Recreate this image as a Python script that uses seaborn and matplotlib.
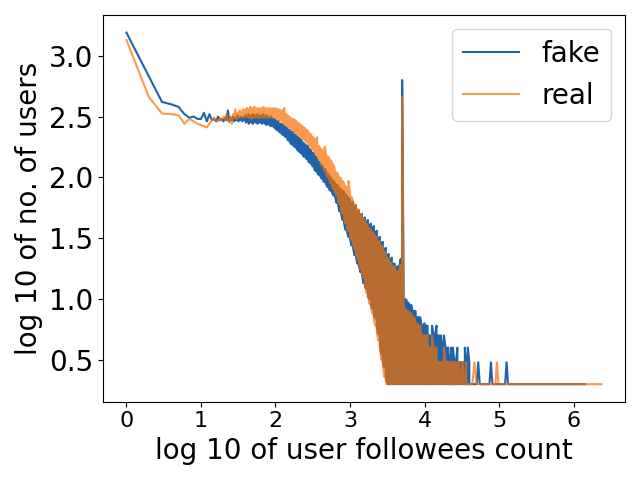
import matplotlib
matplotlib.use("Agg")
import matplotlib.pyplot as plt
import seaborn as sns
import pandas as pd

# log10(followee count) shared by both series in the sparse head
x_head = [0.000, 0.301, 0.477, 0.602, 0.699, 0.778, 0.845, 0.903, 0.954, 1.000,
          1.041, 1.079, 1.114, 1.146, 1.176, 1.204, 1.230, 1.255, 1.279, 1.301,
          1.322, 1.342, 1.362, 1.380, 1.398, 1.415, 1.431, 1.447, 1.462, 1.477,
          1.491, 1.505, 1.519, 1.531, 1.544, 1.556, 1.568, 1.580, 1.591]
fake_head = [3.19, 2.83, 2.62, 2.60, 2.58, 2.52, 2.49, 2.50, 2.48, 2.48,
             2.53, 2.46, 2.52, 2.47, 2.48, 2.46, 2.50, 2.47, 2.48, 2.46,
             2.49, 2.47, 2.55, 2.46, 2.49, 2.47, 2.50, 2.46, 2.49, 2.47,
             2.51, 2.46, 2.49, 2.47, 2.50, 2.46, 2.49, 2.47, 2.50]
real_head = [3.13, 2.66, 2.525, 2.52, 2.51, 2.44, 2.48, 2.46, 2.44, 2.43,
             2.42, 2.41, 2.44, 2.47, 2.49, 2.47, 2.46, 2.49, 2.47, 2.50,
             2.48, 2.52, 2.47, 2.45, 2.50, 2.44, 2.52, 2.49, 2.56, 2.48,
             2.53, 2.49, 2.55, 2.50, 2.54, 2.49, 2.56, 2.51, 2.55]

# dense middle part: per x, lowest and highest value the noisy curve reaches
x_dense = [1.60, 1.62, 1.64, 1.66, 1.68, 1.70, 1.72, 1.74, 1.76, 1.78,
           1.80, 1.82, 1.84, 1.86, 1.88, 1.90, 1.92, 1.94, 1.96, 1.98,
           2.00, 2.02, 2.04, 2.06, 2.08, 2.10, 2.12, 2.14, 2.16, 2.18,
           2.20, 2.22, 2.24, 2.26, 2.28, 2.30, 2.32, 2.34, 2.36, 2.38,
           2.40, 2.42, 2.44, 2.46, 2.48, 2.50, 2.52, 2.54, 2.56, 2.58,
           2.60, 2.62, 2.64, 2.66, 2.68, 2.70, 2.72, 2.74, 2.76, 2.78,
           2.80, 2.82, 2.84, 2.86, 2.88, 2.90, 2.92, 2.94, 2.96, 2.98,
           3.00, 3.02, 3.04, 3.06, 3.08, 3.10, 3.12, 3.14, 3.16, 3.18,
           3.20, 3.22, 3.24, 3.26, 3.28, 3.30, 3.32, 3.34, 3.36, 3.38,
           3.40, 3.42, 3.44, 3.46, 3.48, 3.50, 3.52, 3.54, 3.56, 3.58,
           3.60, 3.62, 3.64, 3.66, 3.68, 3.699, 3.72, 3.74, 3.76, 3.78,
           3.80, 3.82, 3.84, 3.86, 3.88, 3.90, 3.92, 3.94, 3.96, 3.98,
           4.00, 4.02, 4.04, 4.06, 4.08, 4.10, 4.12, 4.14, 4.16, 4.18,
           4.20, 4.22, 4.24, 4.26, 4.28, 4.30, 4.32, 4.34, 4.36, 4.38,
           4.40, 4.42, 4.44, 4.46, 4.48, 4.50, 4.52, 4.54, 4.56, 4.58,
           4.60]
fake_hi = [2.51, 2.50, 2.52, 2.50, 2.51, 2.52, 2.50, 2.51, 2.52, 2.50,
           2.51, 2.50, 2.52, 2.49, 2.51, 2.50, 2.49, 2.50, 2.48, 2.48,
           2.47, 2.46, 2.46, 2.44, 2.44, 2.43, 2.42, 2.41, 2.40, 2.39,
           2.38, 2.37, 2.37, 2.35, 2.34, 2.33, 2.32, 2.31, 2.29, 2.28,
           2.27, 2.26, 2.25, 2.23, 2.22, 2.20, 2.19, 2.17, 2.15, 2.13,
           2.11, 2.10, 2.08, 2.07, 2.05, 2.03, 2.02, 2.00, 1.98, 1.97,
           1.95, 1.94, 1.93, 1.91, 1.90, 1.89, 1.88, 1.86, 1.85, 1.83,
           1.82, 1.79, 1.80, 1.76, 1.77, 1.72, 1.73, 1.69, 1.70, 1.66,
           1.67, 1.63, 1.65, 1.60, 1.62, 1.58, 1.60, 1.55, 1.56, 1.50,
           1.51, 1.46, 1.47, 1.41, 1.42, 1.36, 1.37, 1.32, 1.34, 1.29,
           1.29, 1.25, 1.27, 1.26, 1.33, 2.80, 1.01, 1.00, 0.99, 0.97,
           0.95, 0.95, 0.90, 0.90, 0.90, 0.85, 0.85, 0.85, 0.78, 0.78,
           0.80, 0.78, 0.78, 0.70, 0.70, 0.78, 0.70, 0.70, 0.78, 0.70,
           0.70, 0.70, 0.60, 0.70, 0.60, 0.60, 0.60, 0.48, 0.60, 0.60,
           0.48, 0.48, 0.60, 0.48, 0.48, 0.48, 0.48, 0.60, 0.48, 0.60,
           0.48]
fake_lo = [2.45, 2.46, 2.44, 2.46, 2.45, 2.44, 2.46, 2.45, 2.44, 2.46,
           2.45, 2.44, 2.45, 2.44, 2.43, 2.44, 2.43, 2.42, 2.43, 2.41,
           2.40, 2.39, 2.38, 2.37, 2.36, 2.35, 2.34, 2.33, 2.31, 2.30,
           2.28, 2.27, 2.26, 2.25, 2.24, 2.22, 2.21, 2.20, 2.19, 2.17,
           2.17, 2.15, 2.13, 2.12, 2.11, 2.09, 2.07, 2.05, 2.04, 2.02,
           2.01, 1.99, 1.97, 1.96, 1.94, 1.92, 1.90, 1.89, 1.87, 1.85,
           1.84, 1.79, 1.77, 1.72, 1.70, 1.65, 1.62, 1.57, 1.55, 1.51,
           1.49, 1.44, 1.42, 1.36, 1.34, 1.29, 1.27, 1.22, 1.20, 1.13,
           1.10, 1.08, 1.02, 1.00, 0.95, 0.92, 0.86, 0.84, 0.76, 0.71,
           0.62, 0.55, 0.48, 0.44, 0.35, 0.30, 0.30, 0.30, 0.30, 0.30,
           0.30, 0.30, 0.30, 0.30, 0.30, 0.30, 0.30, 0.30, 0.30, 0.30,
           0.30, 0.30, 0.30, 0.30, 0.30, 0.30, 0.30, 0.30, 0.30, 0.30,
           0.30, 0.30, 0.30, 0.30, 0.30, 0.30, 0.30, 0.30, 0.30, 0.30,
           0.30, 0.30, 0.30, 0.30, 0.30, 0.30, 0.30, 0.30, 0.30, 0.30,
           0.30, 0.30, 0.30, 0.30, 0.30, 0.30, 0.30, 0.30, 0.30, 0.30,
           0.30]
real_hi = [2.56, 2.57, 2.55, 2.58, 2.56, 2.57, 2.58, 2.56, 2.57, 2.56,
           2.57, 2.56, 2.58, 2.56, 2.57, 2.56, 2.57, 2.56, 2.57, 2.56,
           2.57, 2.56, 2.56, 2.55, 2.55, 2.54, 2.57, 2.52, 2.51, 2.50,
           2.49, 2.48, 2.48, 2.47, 2.46, 2.45, 2.44, 2.43, 2.42, 2.41,
           2.40, 2.39, 2.38, 2.36, 2.35, 2.33, 2.32, 2.30, 2.33, 2.26,
           2.24, 2.23, 2.22, 2.25, 2.19, 2.17, 2.16, 2.14, 2.12, 2.10,
           2.05, 2.04, 2.02, 2.00, 1.99, 1.97, 1.95, 1.93, 1.92, 1.97,
           1.86, 1.84, 1.80, 1.78, 1.76, 1.74, 1.72, 1.70, 1.68, 1.66,
           1.63, 1.62, 1.60, 1.58, 1.57, 1.55, 1.54, 1.52, 1.50, 1.48,
           1.46, 1.44, 1.42, 1.39, 1.36, 1.34, 1.32, 1.30, 1.28, 1.27,
           1.25, 1.23, 1.22, 1.24, 1.28, 2.66, 0.92, 0.92, 0.90, 0.90,
           0.88, 0.88, 0.85, 0.85, 0.80, 0.80, 0.78, 0.78, 0.70, 0.70,
           0.70, 0.70, 0.70, 0.60, 0.60, 0.70, 0.60, 0.60, 0.60, 0.48,
           0.48, 0.48, 0.48, 0.60, 0.48, 0.48, 0.48, 0.48, 0.48, 0.48,
           0.48, 0.48, 0.48, 0.48, 0.30, 0.48, 0.48, 0.30, 0.48, 0.30,
           0.30]
real_lo = [2.49, 2.50, 2.49, 2.50, 2.48, 2.50, 2.49, 2.50, 2.49, 2.49,
           2.50, 2.49, 2.50, 2.49, 2.50, 2.49, 2.49, 2.50, 2.49, 2.49,
           2.49, 2.48, 2.47, 2.47, 2.46, 2.45, 2.44, 2.43, 2.42, 2.41,
           2.40, 2.39, 2.38, 2.37, 2.36, 2.35, 2.34, 2.33, 2.32, 2.31,
           2.30, 2.29, 2.27, 2.26, 2.24, 2.23, 2.21, 2.19, 2.17, 2.15,
           2.12, 2.10, 2.08, 2.05, 2.03, 2.00, 1.98, 1.95, 1.93, 1.90,
           1.88, 1.85, 1.80, 1.78, 1.73, 1.70, 1.66, 1.62, 1.58, 1.56,
           1.52, 1.48, 1.45, 1.41, 1.37, 1.33, 1.30, 1.25, 1.21, 1.18,
           1.12, 1.05, 1.04, 0.96, 0.93, 0.88, 0.82, 0.78, 0.72, 0.66,
           0.60, 0.50, 0.45, 0.36, 0.32, 0.30, 0.30, 0.30, 0.30, 0.30,
           0.30, 0.30, 0.30, 0.30, 0.30, 0.30, 0.30, 0.30, 0.30, 0.30,
           0.30, 0.30, 0.30, 0.30, 0.30, 0.30, 0.30, 0.30, 0.30, 0.30,
           0.30, 0.30, 0.30, 0.30, 0.30, 0.30, 0.30, 0.30, 0.30, 0.30,
           0.30, 0.30, 0.30, 0.30, 0.30, 0.30, 0.30, 0.30, 0.30, 0.30,
           0.30, 0.30, 0.30, 0.30, 0.30, 0.30, 0.30, 0.30, 0.30, 0.30,
           0.30]

# sparse tails
fake_tail_x = [4.66, 4.70, 4.72, 4.74, 4.80, 4.87, 4.89, 4.91, 5.00, 5.08, 5.10, 5.12, 5.30, 5.60, 6.15]
fake_tail_y = [0.30, 0.30, 0.48, 0.30, 0.30, 0.30, 0.48, 0.30, 0.30, 0.30, 0.48, 0.30, 0.30, 0.30, 0.30]
real_tail_x = [4.64, 4.67, 4.70, 4.80, 4.95, 4.97, 4.99, 5.20, 5.50, 6.00, 6.37]
real_tail_y = [0.30, 0.48, 0.30, 0.30, 0.30, 0.48, 0.30, 0.30, 0.30, 0.30, 0.30]


def build_series(head_y, lo, hi, tail_x, tail_y):
    """Head, then the dense part traced up/down between lo and hi, then the tail."""
    xs, ys = list(x_head), list(head_y)
    for i, x in enumerate(x_dense):
        pair = (hi[i], lo[i]) if i % 2 == 0 else (lo[i], hi[i])
        xs += [x, x]
        ys += list(pair)
    xs += tail_x
    ys += tail_y
    return pd.DataFrame({"x": xs, "y": ys})


fake = build_series(fake_head, fake_lo, fake_hi, fake_tail_x, fake_tail_y)
real = build_series(real_head, real_lo, real_hi, real_tail_x, real_tail_y)

fig, ax = plt.subplots(figsize=(6.4, 4.8), dpi=100)
sns.lineplot(data=fake, x="x", y="y", ax=ax, color="#1f64aa", label="fake",
             estimator=None, sort=False, linewidth=1.5)
sns.lineplot(data=real, x="x", y="y", ax=ax, color="#fa7000", alpha=0.7, label="real",
             estimator=None, sort=False, linewidth=1.5)

ax.set_xlabel("log 10 of user followees count", fontsize=20)
ax.set_ylabel("log 10 of no. of users", fontsize=20)
ax.set_xticks([0, 1, 2, 3, 4, 5, 6])
ax.set_yticks([0.5, 1.0, 1.5, 2.0, 2.5, 3.0])
ax.tick_params(axis="x", labelsize=16)
ax.tick_params(axis="y", labelsize=20)
ax.legend(loc="upper right", fontsize=20)
plt.tight_layout()
plt.savefig("out.png")
